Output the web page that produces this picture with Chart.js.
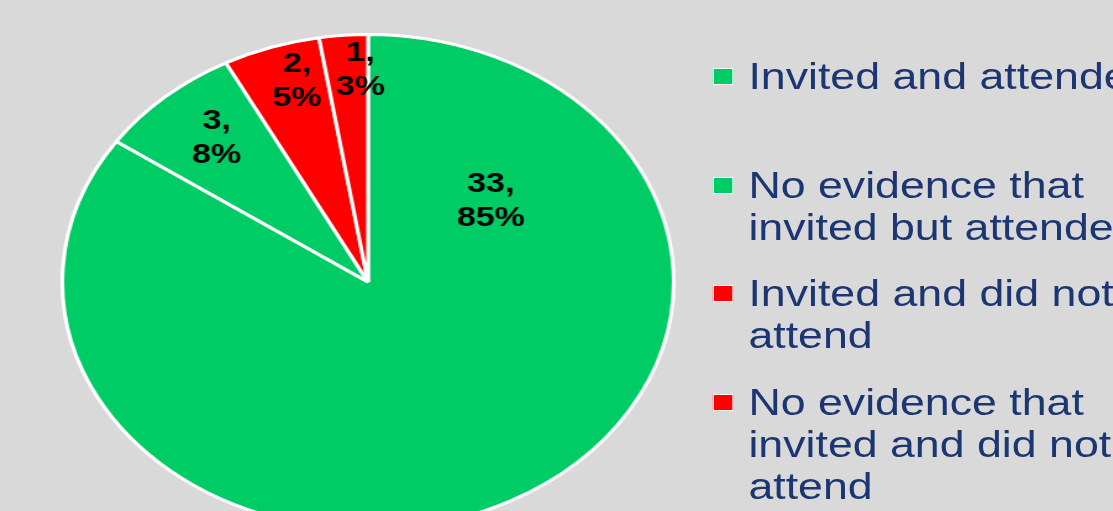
<!DOCTYPE html>
<html>
<head>
<meta charset="utf-8">
<script src="https://cdn.jsdelivr.net/npm/chart.js@4/dist/chart.umd.min.js"></script>
<style>
  html, body { margin: 0; padding: 0; width: 1113px; height: 511px; overflow: hidden; background: #d9d9d9; }
  /* the source picture is stretched sideways, so the whole stage is too */
  #stage { position: absolute; left: 0; top: 0; width: 901px; height: 511px; transform: scaleX(1.235); transform-origin: 0 0; }
  #attendance_chart { position: absolute; left: 49px; top: 33px; width: 498px; height: 498px; }
  #legend { position: absolute; left: 577px; top: 56px; margin: 0; padding: 0; list-style: none;
            font-family: "Liberation Sans", Arial, sans-serif; font-size: 36.2px; line-height: 42px;
            color: #1c3673; white-space: nowrap; }
  #legend li { position: relative; height: 108.7px; padding-left: 29px; }
  #legend li span { position: absolute; left: 0; top: 12px; width: 15px; height: 15px; border: 1px solid #fff; }
</style>
</head>
<body>
<div id="stage">
  <canvas id="attendance_chart" width="498" height="498"></canvas>
  <ul id="legend"></ul>
</div>
<script>
var categories = [
  ["Invited and attended"],
  ["No evidence that", "invited but attended"],
  ["Invited and did not", "attend"],
  ["No evidence that", "invited and did not", "attend"]
];
var counts = [33, 3, 2, 1];
var colors = ["#00cc66", "#00cc66", "#ff0000", "#ff0000"];

// where each label sits: [share along the slice, share of the radius]
var labelSpots = [[0.166, 0.52], [0.545, 0.766], [0.64, 0.847], [0.82, 0.86]];

var sliceLabels = {
  id: 'sliceLabels',
  afterDatasetsDraw: function (chart) {
    var ctx = chart.ctx;
    var total = counts.reduce(function (a, b) { return a + b; }, 0);
    chart.getDatasetMeta(0).data.forEach(function (arc, i) {
      var p = arc.getProps(['x', 'y', 'startAngle', 'endAngle', 'outerRadius'], true);
      var a = p.startAngle + labelSpots[i][0] * (p.endAngle - p.startAngle);
      var r = labelSpots[i][1] * p.outerRadius;
      var x = p.x + Math.cos(a) * r;
      var y = p.y + Math.sin(a) * r;
      ctx.save();
      ctx.font = 'bold 27.5px "Liberation Sans", Arial, sans-serif';
      ctx.fillStyle = '#000';
      ctx.textAlign = 'center';
      ctx.textBaseline = 'middle';
      ctx.fillText(counts[i] + ',', x, y - 16);
      ctx.fillText(Math.round(counts[i] / total * 100) + '%', x, y + 18);
      ctx.restore();
    });
  }
};

var ctx = document.getElementById('attendance_chart').getContext('2d');
var chart = new Chart(ctx, {
  type: 'pie',
  data: {
    labels: categories,
    datasets: [{
      data: counts,
      backgroundColor: colors,
      borderColor: '#ffffff',
      borderWidth: 3
    }]
  },
  options: {
    responsive: false,
    animation: false,
    devicePixelRatio: 1,
    layout: { padding: 0 },
    plugins: {
      legend: { display: false },
      tooltip: { enabled: false }
    }
  },
  plugins: [sliceLabels]
});

// legend built from the chart's own legend items
var legendEl = document.getElementById('legend');
chart.options.plugins.legend.labels.generateLabels(chart).forEach(function (item) {
  var li = document.createElement('li');
  var box = document.createElement('span');
  box.style.background = item.fillStyle;
  li.appendChild(box);
  [].concat(item.text).forEach(function (line, k) {
    if (k > 0) li.appendChild(document.createElement('br'));
    li.appendChild(document.createTextNode(line));
  });
  legendEl.appendChild(li);
});
</script>
</body>
</html>
